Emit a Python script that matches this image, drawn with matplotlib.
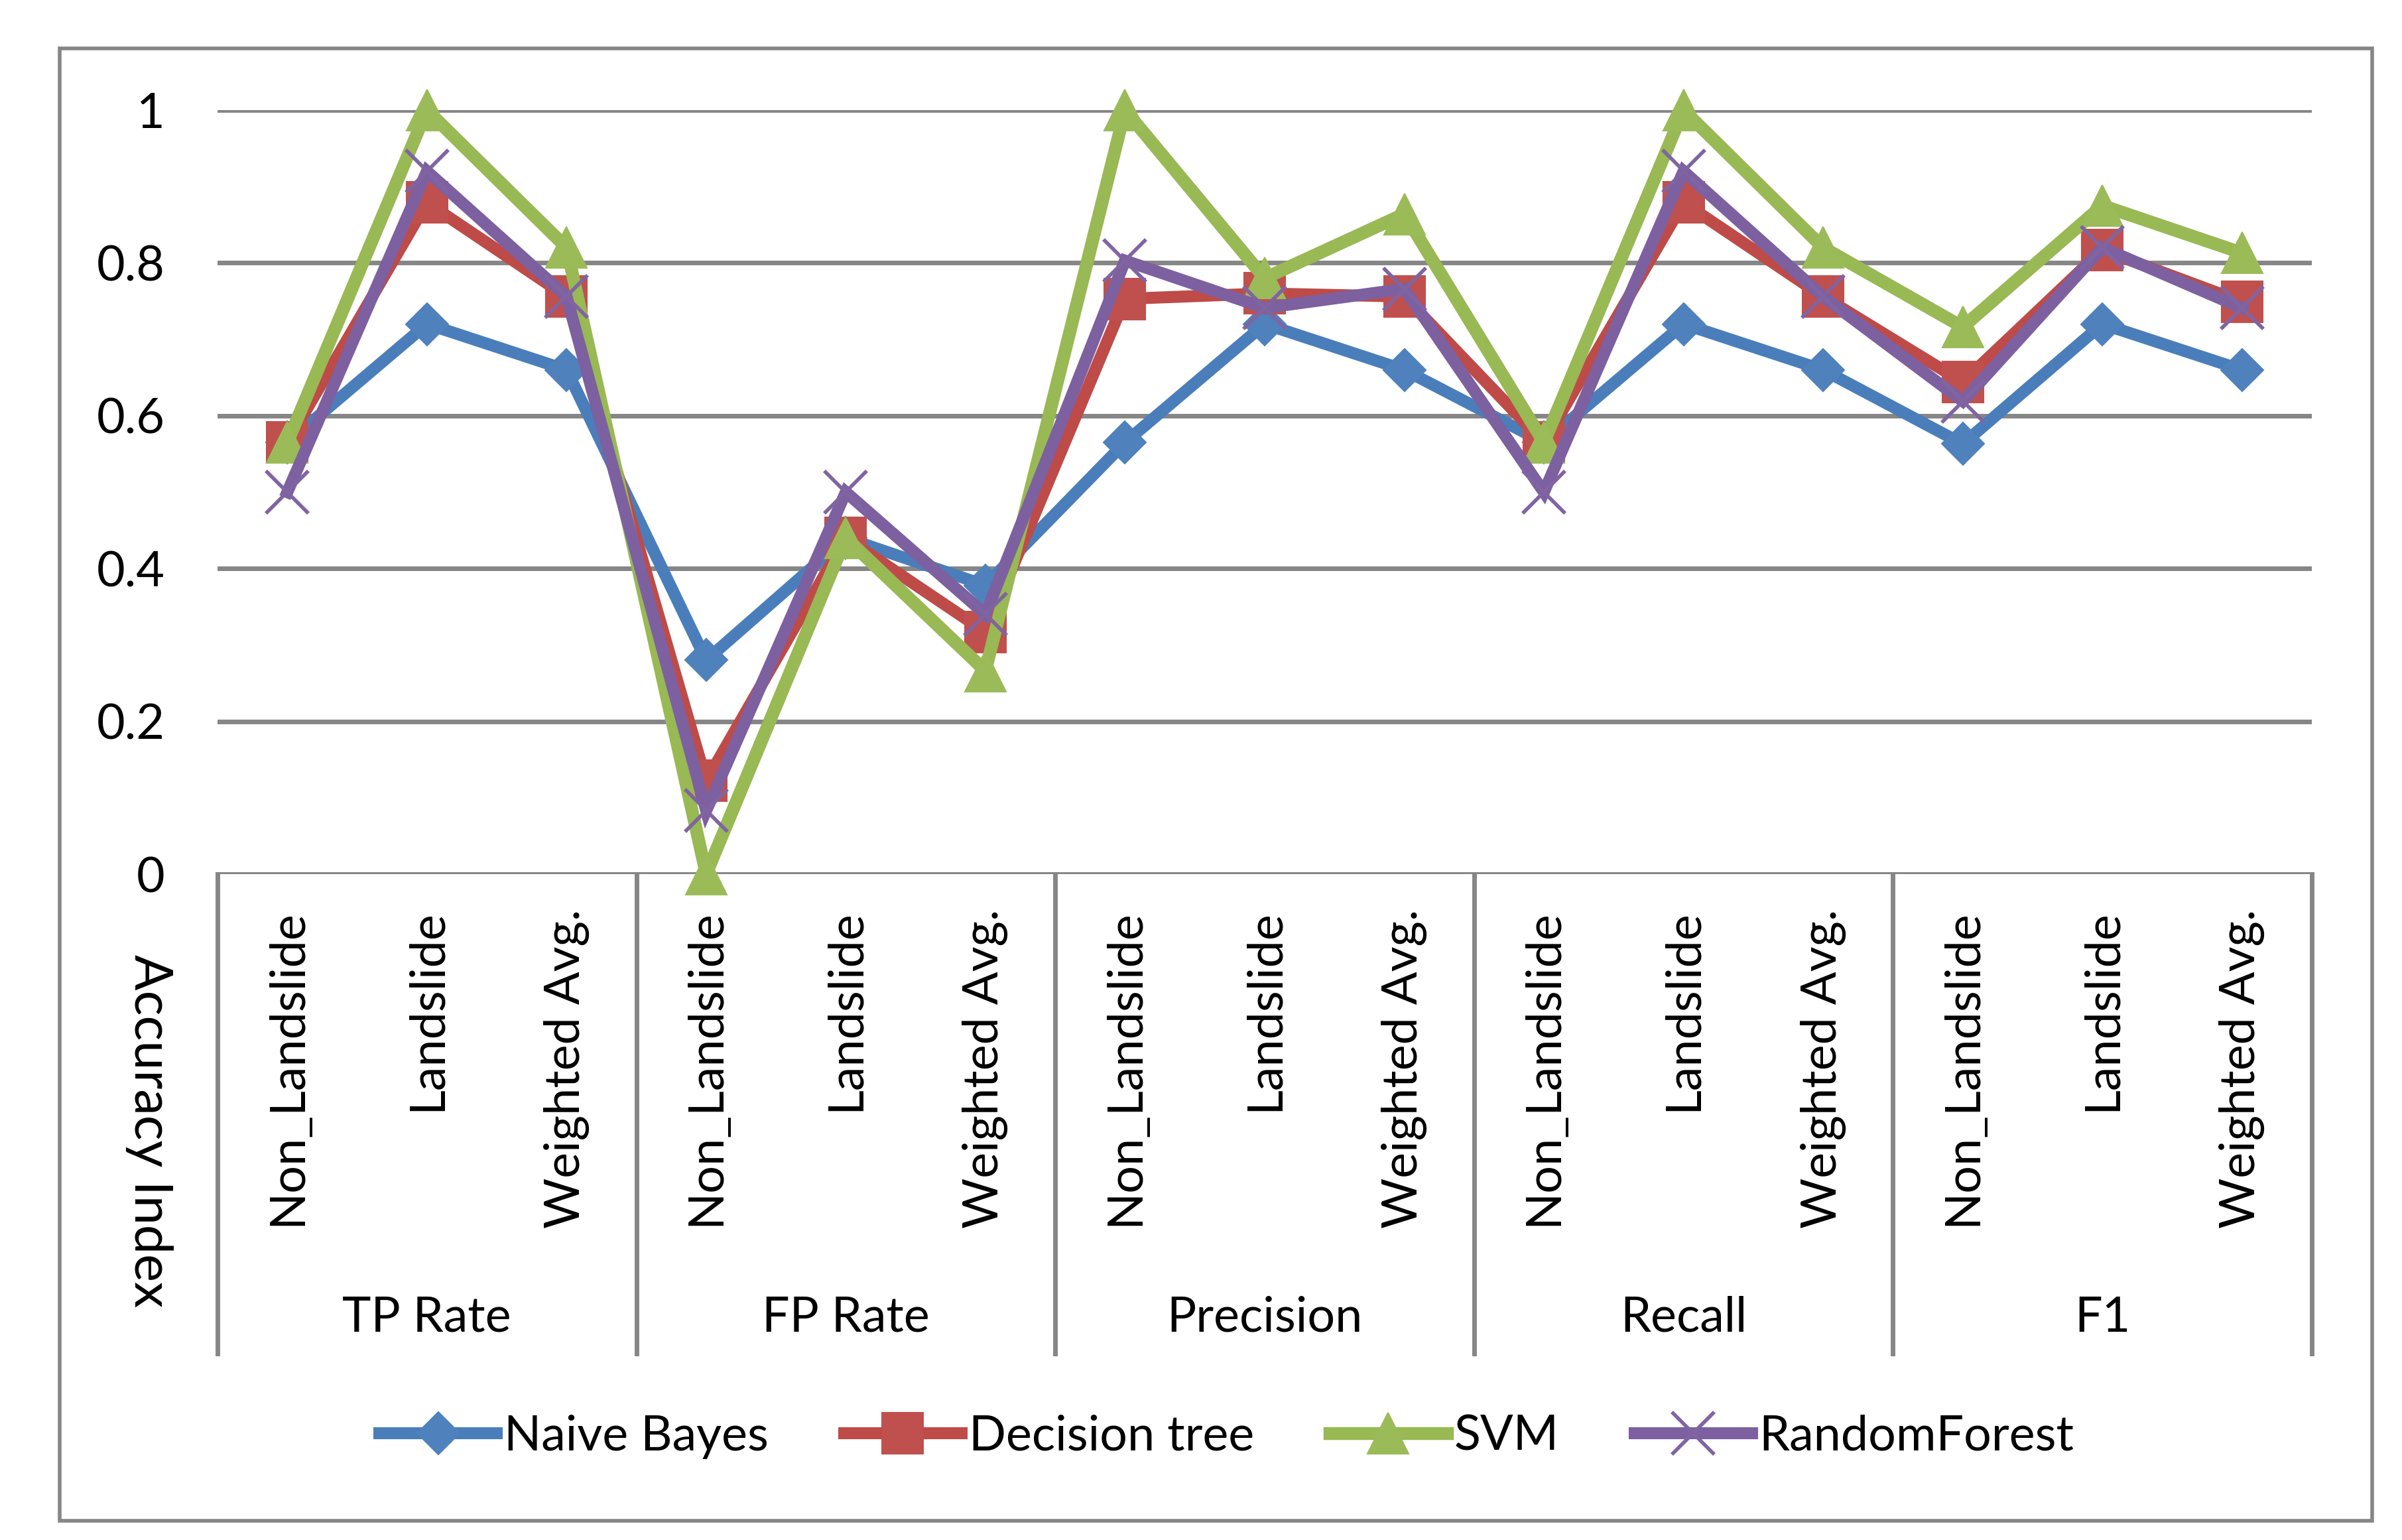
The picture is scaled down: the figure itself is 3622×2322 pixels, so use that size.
import matplotlib.pyplot as plt
from matplotlib.patches import Rectangle
from matplotlib import transforms

plt.rcParams['font.family'] = ['Lato', 'DejaVu Sans']

# data
groups = ['TP Rate', 'FP Rate', 'Precision', 'Recall', 'F1']
classes = ['Non_Landslide', 'Landslide', 'Weighted Avg.']

naive_bayes = [0.565, 0.72, 0.66, 0.28, 0.44, 0.378, 0.565, 0.72, 0.66, 0.565, 0.72, 0.66, 0.563, 0.72, 0.66]
decision_tree = [0.565, 0.879, 0.756, 0.122, 0.44, 0.317, 0.753, 0.76, 0.756, 0.565, 0.879, 0.756, 0.644, 0.817, 0.749]
svm = [0.565, 1.0, 0.82, 0.0, 0.44, 0.266, 1.0, 0.78, 0.864, 0.565, 1.0, 0.82, 0.716, 0.875, 0.813]
random_forest = [0.5, 0.92, 0.756, 0.083, 0.5, 0.34, 0.803, 0.741, 0.766, 0.5, 0.92, 0.756, 0.619, 0.82, 0.741]

series_names = ['Naive Bayes', 'Decision tree', 'SVM', 'RandomForest']
yticks = [0, 0.2, 0.4, 0.6, 0.8, 1]

W, H = 3622, 2322
fig = plt.figure(figsize=(W / 100, H / 100), dpi=100)
fig.patch.set_facecolor('white')

# plot area in pixels (from the reference)
left, right, top, bottom = 328, 3486, 166, 1318
ax = fig.add_axes([left / W, 1 - bottom / H, (right - left) / W, (bottom - top) / H])

grid_col = '#868686'
txt_size = 53

for v in yticks:
    ax.axhline(v, color=grid_col, lw=5, zorder=1)

n = len(groups) * len(classes)
x = list(range(n))

styles = [
    (naive_bayes, '#4A7EBB', '#4F81BD', 'D', 33, 13),
    (decision_tree, '#BE4B48', '#C0504D', 's', 44, 13),
    (svm, '#98B954', '#9BBB59', '^', 44, 14),
    (random_forest, '#7D60A0', '#8064A2', 'x', 46, 13),
]
for (vals, lc, mc, mk, ms, lw), name in zip(styles, series_names):
    if mk == 'x':
        ax.plot(x, vals, color=lc, lw=lw, marker=mk, markersize=ms, markeredgewidth=4,
                markeredgecolor=mc, label=name, clip_on=False, zorder=3, solid_joinstyle='miter')
    else:
        ax.plot(x, vals, color=lc, lw=lw, marker=mk, markersize=ms, markeredgewidth=1.5,
                markerfacecolor=mc, markeredgecolor=mc, label=name, clip_on=False, zorder=3,
                solid_joinstyle='miter')

ax.set_xlim(-0.5, n - 0.5)
ax.set_ylim(0, 1)
for s in ax.spines.values():
    s.set_visible(False)

ax.set_yticks(yticks)
ax.set_yticklabels(['0', '0.2', '0.4', '0.6', '0.8', '1'], fontsize=txt_size)
ax.tick_params(axis='y', length=0, pad=57)

ax.set_xticks(x)
ax.set_xticklabels(classes * len(groups), rotation=90, fontsize=txt_size)
ax.tick_params(axis='x', length=0, pad=38)

# multi-level category axis: separators and group names
axis_bottom = 2041
depth = -(axis_bottom - bottom) / (bottom - top)
trans = transforms.blended_transform_factory(ax.transData, ax.transAxes)
for k in range(len(groups) + 1):
    xs = k * len(classes) - 0.5
    ax.plot([xs, xs], [0, depth], color=grid_col, lw=5, transform=trans, clip_on=False, zorder=1)
for k, g in enumerate(groups):
    xc = k * len(classes) + 1
    ax.text(xc, -(1987 - bottom) / (bottom - top), g, transform=trans, ha='center', va='center',
            fontsize=txt_size)

fig.text(225 / W, 1 - 1705 / H, 'Accuracy Index', rotation=-90, ha='center', va='center',
         fontsize=57)

fig.legend(loc='center', bbox_to_anchor=(1850 / W, 1 - 2166 / H), ncol=4, frameon=False,
           fontsize=txt_size, handlelength=2.4, handletextpad=0.15, columnspacing=1.55,
           numpoints=1)

# outer chart border
fig.patches.append(Rectangle((90 / W, 1 - 2293 / H), (3577 - 90) / W, (2293 - 73) / H,
                             transform=fig.transFigure, fill=False, edgecolor=grid_col, lw=4))

fig.savefig('out.png', dpi=100)
